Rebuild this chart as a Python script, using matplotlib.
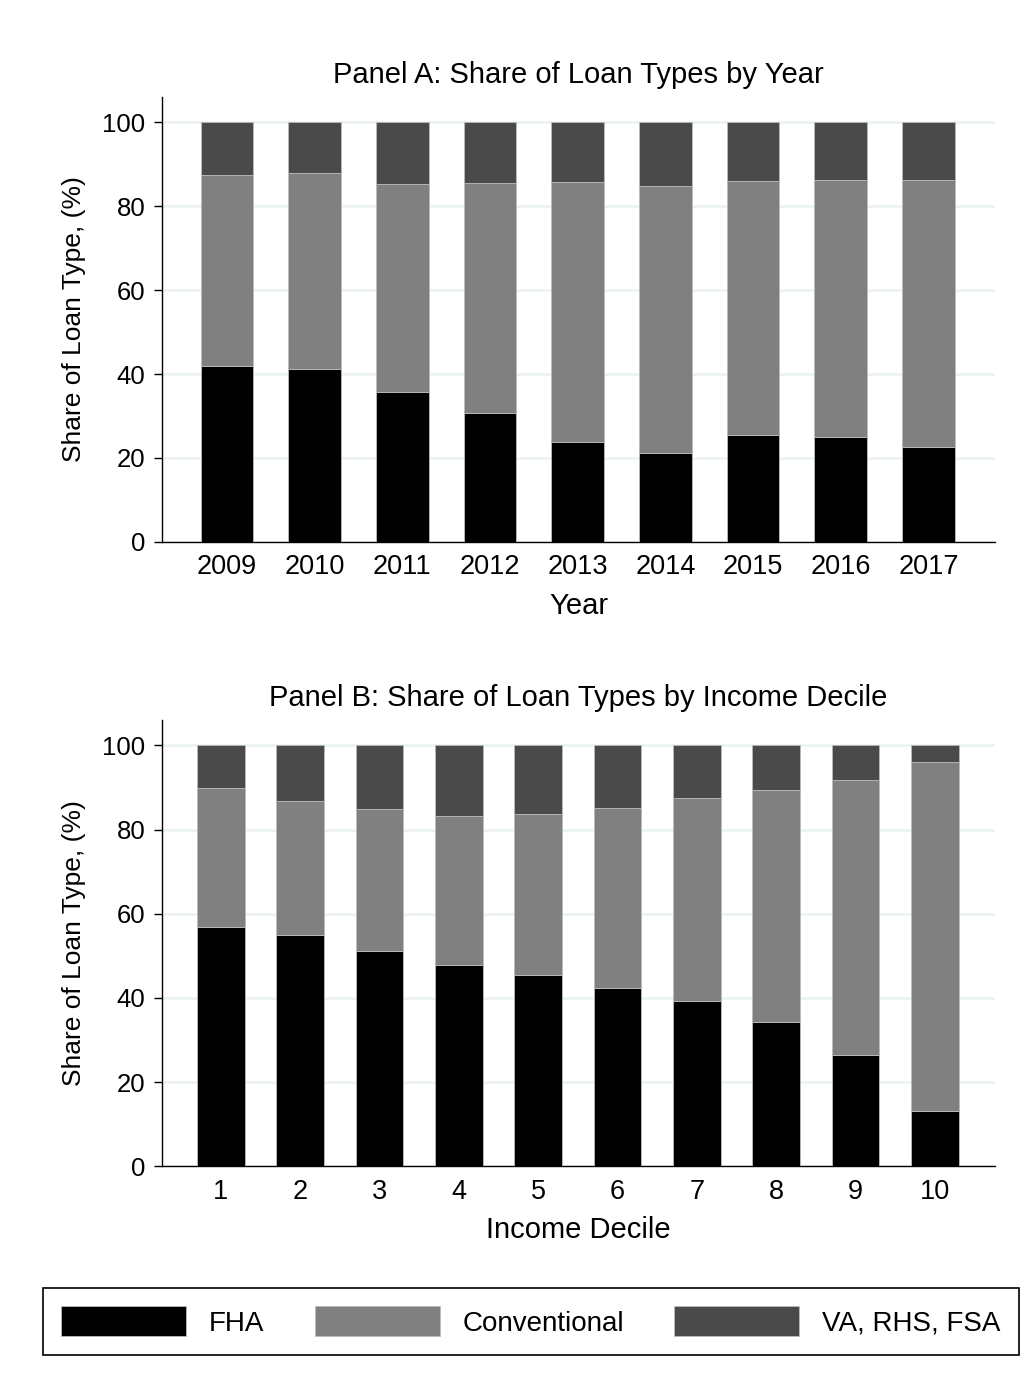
import numpy as np
import matplotlib
matplotlib.use("Agg")
import matplotlib.pyplot as plt

plt.rcParams['font.family'] = ['Liberation Sans', 'DejaVu Sans']

years = [2009, 2010, 2011, 2012, 2013, 2014, 2015, 2016, 2017]
fha_year = [41.9, 41.2, 35.7, 30.7, 23.8, 21.2, 25.5, 25.0, 22.6]
conv_year = [45.5, 46.7, 49.5, 54.8, 61.9, 63.6, 60.5, 61.2, 63.6]
other_year = [100 - a - b for a, b in zip(fha_year, conv_year)]

deciles = [1, 2, 3, 4, 5, 6, 7, 8, 9, 10]
fha_dec = [56.9, 55.0, 51.2, 47.9, 45.5, 42.4, 39.3, 34.3, 26.4, 13.1]
conv_dec = [33.1, 31.9, 33.6, 35.4, 38.3, 42.8, 48.3, 55.2, 65.5, 82.9]
other_dec = [100 - a - b for a, b in zip(fha_dec, conv_dec)]

labels = ['FHA', 'Conventional', 'VA, RHS, FSA']
colors = ['#000000', '#808080', '#4a4a4a']
grid_col = '#eaf2f3'


def panel(ax, x, fha, conv, other, title, xlabel):
    x = np.array(x)
    b1 = ax.bar(x, fha, width=0.6, color=colors[0], edgecolor='#bbbbbb', linewidth=0.6, zorder=3)
    b2 = ax.bar(x, conv, width=0.6, bottom=fha, color=colors[1], edgecolor='#bbbbbb', linewidth=0.6, zorder=3)
    b3 = ax.bar(x, other, width=0.6, bottom=np.array(fha) + np.array(conv),
                color=colors[2], edgecolor='#bbbbbb', linewidth=0.6, zorder=3)
    ax.set_ylim(0, 106)
    ax.set_xlim(x[0] - 0.74, x[-1] + 0.76)
    ax.set_yticks([0, 20, 40, 60, 80, 100])
    ax.set_xticks(x)
    ax.set_xticklabels([str(v) for v in x])
    ax.yaxis.grid(True, color=grid_col, linewidth=1.8, zorder=0)
    ax.set_axisbelow(True)
    for s in ['top', 'right']:
        ax.spines[s].set_visible(False)
    ax.spines['left'].set_linewidth(1.0)
    ax.spines['bottom'].set_linewidth(1.0)
    ax.tick_params(axis='y', labelsize=18.5, length=6, width=1, pad=6)
    ax.tick_params(axis='x', labelsize=19.5, length=0, pad=9)
    ax.set_title(title, fontsize=21, pad=10)
    ax.set_xlabel(xlabel, fontsize=21, labelpad=8)
    ax.set_ylabel('Share of Loan Type, (%)', fontsize=19, labelpad=12)
    return [b1, b2, b3]


fig = plt.figure(figsize=(10.34, 13.85), dpi=100)
axA = fig.add_axes([0.1567, 0.6087, 0.8056, 0.3213])
axB = fig.add_axes([0.1567, 0.158, 0.8056, 0.322])

handles = panel(axA, years, fha_year, conv_year, other_year,
                'Panel A: Share of Loan Types by Year', 'Year')
panel(axB, deciles, fha_dec, conv_dec, other_dec,
      'Panel B: Share of Loan Types by Income Decile', 'Income Decile')

leg = fig.legend(handles, labels, loc='center', ncol=3,
                 bbox_to_anchor=(0.5135, 0.0459),
                 borderaxespad=0,
                 fontsize=20, handlelength=4.5, handleheight=1.3,
                 handletextpad=0.83, borderpad=0.65, columnspacing=1.8,
                 fancybox=False, framealpha=1)
leg.get_frame().set_edgecolor('black')
leg.get_frame().set_linewidth(1.2)

fig.savefig('out.png', dpi=100)
